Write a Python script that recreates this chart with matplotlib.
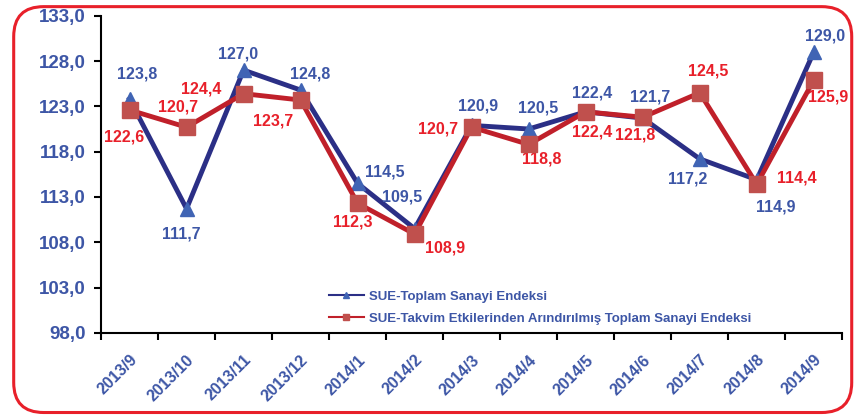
import matplotlib
matplotlib.use("Agg")
import matplotlib.pyplot as plt
from matplotlib.patches import FancyBboxPatch
import numpy as np

months = ["2013/9", "2013/10", "2013/11", "2013/12", "2014/1", "2014/2", "2014/3",
          "2014/4", "2014/5", "2014/6", "2014/7", "2014/8", "2014/9"]
toplam = [123.8, 111.7, 127.0, 124.8, 114.5, 109.5, 120.9, 120.5, 122.4, 121.7, 117.2, 114.9, 129.0]
takvim = [122.6, 120.7, 124.4, 123.7, 112.3, 108.9, 120.7, 118.8, 122.4, 121.8, 124.5, 114.4, 125.9]

# label offsets in pixels (dx, dy), y up
toplam_off = [(8, 25), (-5, -25), (-6, 16), (10, 16), (27, 11), (-13, 32), (6, 19), (9, 21),
              (6, 19), (7, 21), (-12, -20), (19, -27), (11, 16)]
takvim_off = [(-5, -27), (-8, 20), (-42, 5), (-27, -21), (-5, -19), (30, -14), (-34, -2), (13, -15),
              (6, -20), (-8, -18), (8, 22), (40, 6), (14, -17)]

blue_txt = "#3d56a6"
red_txt = "#e8202a"

plt.rcParams['font.family'] = ['Liberation Sans', 'DejaVu Sans']

fig = plt.figure(figsize=(8.56, 4.15), dpi=100)
ax = fig.add_axes([0.118, 0.198, 0.866, 0.764])

x = np.arange(len(months))
ax.plot(x, toplam, color="#2b2f86", lw=3.5, marker="^", ms=10, mfc="#4064b4", mec="#4064b4",
        label="SUE-Toplam Sanayi Endeksi", zorder=3)
ax.plot(x, takvim, color="#c0202a", lw=3.5, marker="s", ms=11, mfc="#c0504d", mec="#c0504d",
        label="SUE-Takvim Etkilerinden Arındırılmış Toplam Sanayi Endeksi", zorder=4)

for i in range(len(months)):
    ax.annotate(f"{toplam[i]:.1f}".replace(".", ","), (x[i], toplam[i]), xytext=toplam_off[i],
                textcoords="offset pixels", ha="center", va="center", color=blue_txt,
                fontsize=11.5, fontweight="bold")
    ax.annotate(f"{takvim[i]:.1f}".replace(".", ","), (x[i], takvim[i]), xytext=takvim_off[i],
                textcoords="offset pixels", ha="center", va="center", color=red_txt,
                fontsize=11.5, fontweight="bold")

ax.set_xlim(-0.5, len(months) - 0.5)
ax.set_ylim(98, 133)
ax.set_yticks(np.arange(98, 134, 5))
ax.set_yticklabels([f"{v:.1f}".replace(".", ",") for v in np.arange(98, 134, 5)],
                   color=blue_txt, fontsize=13.5, fontweight="bold")

ax.set_xticks(np.arange(-0.5, len(months)), labels=[""] * (len(months) + 1))
ax.set_xticks(x, minor=True)
ax.set_xticklabels(months, minor=True, rotation=45, ha="right", va="top",
                   rotation_mode="anchor", color=blue_txt, fontsize=11.5, fontweight="bold")
ax.tick_params(axis="x", which="minor", length=0, pad=14)
ax.tick_params(axis="x", which="major", length=5, width=1.5, direction="out")
ax.tick_params(axis="y", length=5, width=1.5, direction="out", pad=6)

for s in ["top", "right"]:
    ax.spines[s].set_visible(False)
for s in ["left", "bottom"]:
    ax.spines[s].set_linewidth(1.5)

leg = ax.legend(loc="lower left", bbox_to_anchor=(0.292, -0.012), frameon=False, fontsize=9.5,
                handlelength=2.6, handletextpad=0.4, markerscale=0.45, labelspacing=0.75)
for t in leg.get_texts():
    t.set_color(blue_txt)
    t.set_fontweight("bold")
for h in leg.get_lines():
    h.set_linewidth(1.5)

border = FancyBboxPatch((0.016, 0.006), 0.979, 0.978, boxstyle="round,pad=0,rounding_size=0.035",
                        transform=fig.transFigure, fill=False, ec="#e8202a", lw=2.2,
                        mutation_aspect=856 / 415)
fig.patches.append(border)

fig.savefig("out.png", dpi=100)
